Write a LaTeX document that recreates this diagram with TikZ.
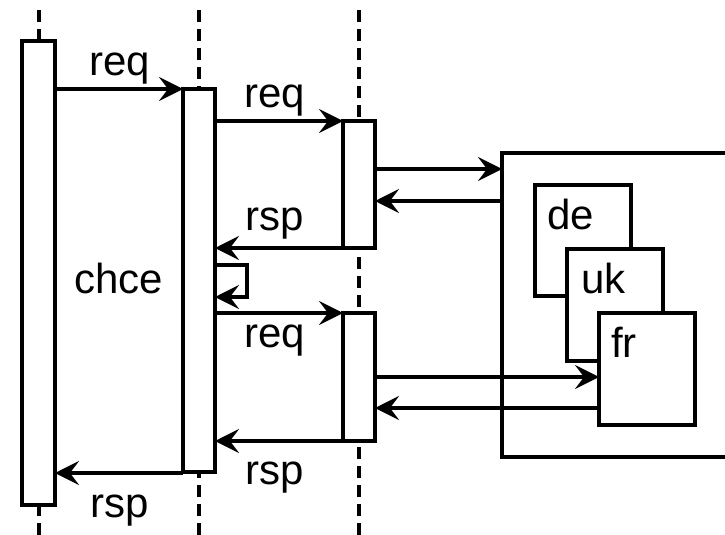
\documentclass[tikz,border=0pt]{standalone}
\usepackage{fontspec}
\setmainfont{Liberation Sans}
\usetikzlibrary{arrows.meta}
\begin{document}
\begin{tikzpicture}[x=1pt,y=-1pt,
  lw/.style={line width=3.2pt},
  life/.style={line width=3.3pt, dash pattern=on 12pt off 7pt},
  box/.style={draw, lw, fill=white, inner sep=0pt, outer sep=0pt},
  arr/.style={lw, -{Stealth[length=24pt,width=24pt,inset=9pt]}},
  lbl/.style={anchor=base, inner sep=0pt, font=\fontsize{42}{50}\selectfont},
  tag/.style={anchor=base west, inner sep=0pt, font=\fontsize{42}{50}\selectfont}]
\useasboundingbox (0,0) rectangle (725,535);
% lifelines
\coordinate (l1t) at (39,10);  \coordinate (l1b) at (39,535);
\coordinate (l2t) at (199,10); \coordinate (l2b) at (199,535);
\coordinate (l3t) at (359,10); \coordinate (l3b) at (359,535);
\draw[life] (l1t) -- (l1b);
\draw[life] (l2t) -- (l2b);
\draw[life] (l3t) -- (l3b);
% activation boxes
\node[box, minimum width=33pt, minimum height=464pt] (b1) at (38.5,273) {};
\node[box, minimum width=32pt, minimum height=383pt] (b2) at (199,280.5) {};
\node[box, minimum width=32pt, minimum height=127pt] (b3) at (359,184.5) {};
\node[box, minimum width=32pt, minimum height=128pt] (b4) at (359,377) {};
% container
\node[box, minimum width=240pt, minimum height=304pt] (big) at (622,305) {};
\node[box, minimum width=96pt, minimum height=111pt] (de) at (583,240.5) {};
\node[box, minimum width=96pt, minimum height=112pt] (uk) at (615,305) {};
\node[box, minimum width=96pt, minimum height=112pt] (fr) at (647,369) {};
\node[tag] (tde) at (547,229) {de};
\node[tag] (tuk) at (581,293) {uk};
\node[tag] (tfr) at (611,357) {fr};
% messages
\draw[arr] (b1.east |- 0,89) -- (b2.west |- 0,89);
\draw[arr] (b2.east |- 0,121) -- (b3.west |- 0,121);
\draw[arr] (b3.east |- 0,169) -- (big.west |- 0,169);
\draw[arr] (big.west |- 0,201) -- (b3.east |- 0,201);
\draw[arr] (b3.west |- 0,248) -- (b2.east |- 0,248);
\draw[arr] (b2.east |- 0,265) -- (247,265) -- (247,297) -- (b2.east |- 0,297);
\draw[arr] (b2.east |- 0,313) -- (b4.west |- 0,313);
\draw[arr] (b4.east |- 0,377) -- (fr.west |- 0,377);
\draw[arr] (fr.west |- 0,408) -- (b4.east |- 0,408);
\draw[arr] (b4.west |- 0,441) -- (b2.east |- 0,441);
\draw[arr] (b2.west |- 0,473) -- (b1.east |- 0,473);
% labels
\node[lbl] (r1) at (120,75) {req};
\node[lbl] (r2) at (275,107) {req};
\node[lbl] (s1) at (275,230) {rsp};
\node[lbl] (ch) at (119,293) {chce};
\node[lbl] (r3) at (275,347) {req};
\node[lbl] (s2) at (275,484) {rsp};
\node[lbl] (s3) at (120,517) {rsp};
\end{tikzpicture}
\end{document}
